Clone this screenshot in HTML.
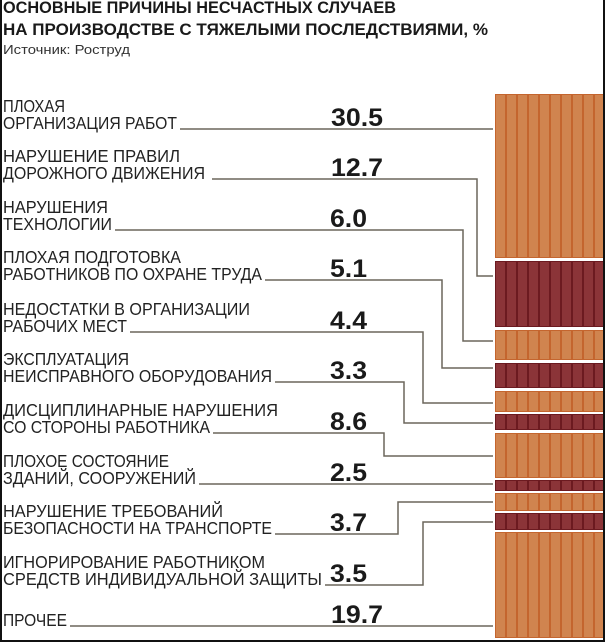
<!DOCTYPE html>
<html><head><meta charset="utf-8"><style>
html,body{margin:0;padding:0;background:#fff;}
svg{display:block;}
.t{font-family:"Liberation Sans",sans-serif;font-weight:bold;font-size:17px;fill:#1a1a1a;}
.s{font-family:"Liberation Sans",sans-serif;font-size:13px;fill:#333;}
.l{font-family:"Liberation Sans",sans-serif;font-size:17.5px;fill:#222;}
.n{font-family:"Liberation Sans",sans-serif;font-weight:bold;font-size:25px;fill:#1a1a1a;}
</style></head><body>
<svg width="605" height="642" viewBox="0 0 605 642" xmlns="http://www.w3.org/2000/svg">
<rect width="605" height="642" fill="#fff"/>
<text class="t" x="3" y="13" textLength="393" lengthAdjust="spacingAndGlyphs">ОСНОВНЫЕ ПРИЧИНЫ НЕСЧАСТНЫХ СЛУЧАЕВ</text>
<text class="t" x="3" y="35" textLength="485" lengthAdjust="spacingAndGlyphs">НА ПРОИЗВОДСТВЕ С ТЯЖЕЛЫМИ ПОСЛЕДСТВИЯМИ, %</text>
<text class="s" x="3" y="54" textLength="127" lengthAdjust="spacingAndGlyphs">Источник: Роструд</text>

<g fill="none" stroke="#6b665c" stroke-width="1.5">
<polyline points="180,129 493,129"/>
<polyline points="212,179 477,179 477,276 493,276"/>
<polyline points="115,230 463,230 463,341 493,341"/>
<polyline points="265,280 442,280 442,368 493,368"/>
<polyline points="130,332 423,332 423,403 493,403"/>
<polyline points="275,382 404,382 404,423 493,423"/>
<polyline points="213,433 384,433 384,456 493,456"/>
<polyline points="199,484 493,484"/>
<polyline points="275,534 398,534 398,502 493,502"/>
<polyline points="325,585 423,585 423,522 493,522"/>
<polyline points="70,626 493,626"/>
</g>
<g class="l">
<text x="3" y="112" textLength="62" lengthAdjust="spacingAndGlyphs">ПЛОХАЯ</text>
<text x="3" y="129" textLength="174" lengthAdjust="spacingAndGlyphs">ОРГАНИЗАЦИЯ РАБОТ</text>
<text x="3" y="162" textLength="177" lengthAdjust="spacingAndGlyphs">НАРУШЕНИЕ ПРАВИЛ</text>
<text x="3" y="179" textLength="202" lengthAdjust="spacingAndGlyphs">ДОРОЖНОГО ДВИЖЕНИЯ</text>
<text x="3" y="213" textLength="105" lengthAdjust="spacingAndGlyphs">НАРУШЕНИЯ</text>
<text x="3" y="230" textLength="109" lengthAdjust="spacingAndGlyphs">ТЕХНОЛОГИИ</text>
<text x="3" y="263" textLength="178" lengthAdjust="spacingAndGlyphs">ПЛОХАЯ ПОДГОТОВКА</text>
<text x="3" y="280" textLength="259" lengthAdjust="spacingAndGlyphs">РАБОТНИКОВ ПО ОХРАНЕ ТРУДА</text>
<text x="3" y="315" textLength="247" lengthAdjust="spacingAndGlyphs">НЕДОСТАТКИ В ОРГАНИЗАЦИИ</text>
<text x="3" y="332" textLength="124" lengthAdjust="spacingAndGlyphs">РАБОЧИХ МЕСТ</text>
<text x="3" y="365" textLength="126" lengthAdjust="spacingAndGlyphs">ЭКСПЛУАТАЦИЯ</text>
<text x="3" y="382" textLength="269" lengthAdjust="spacingAndGlyphs">НЕИСПРАВНОГО ОБОРУДОВАНИЯ</text>
<text x="3" y="416" textLength="275" lengthAdjust="spacingAndGlyphs">ДИСЦИПЛИНАРНЫЕ НАРУШЕНИЯ</text>
<text x="3" y="433" textLength="207" lengthAdjust="spacingAndGlyphs">СО СТОРОНЫ РАБОТНИКА</text>
<text x="3" y="467" textLength="166" lengthAdjust="spacingAndGlyphs">ПЛОХОЕ СОСТОЯНИЕ</text>
<text x="3" y="484" textLength="193" lengthAdjust="spacingAndGlyphs">ЗДАНИЙ, СООРУЖЕНИЙ</text>
<text x="3" y="517" textLength="220" lengthAdjust="spacingAndGlyphs">НАРУШЕНИЕ ТРЕБОВАНИЙ</text>
<text x="3" y="534" textLength="269" lengthAdjust="spacingAndGlyphs">БЕЗОПАСНОСТИ НА ТРАНСПОРТЕ</text>
<text x="3" y="568" textLength="262" lengthAdjust="spacingAndGlyphs">ИГНОРИРОВАНИЕ РАБОТНИКОМ</text>
<text x="3" y="585" textLength="319" lengthAdjust="spacingAndGlyphs">СРЕДСТВ ИНДИВИДУАЛЬНОЙ ЗАЩИТЫ</text>
<text x="3" y="626" textLength="64" lengthAdjust="spacingAndGlyphs">ПРОЧЕЕ</text>
</g>
<g class="n" text-anchor="end">
<text x="383" y="126" textLength="52" lengthAdjust="spacingAndGlyphs">30.5</text>
<text x="383" y="176" textLength="52" lengthAdjust="spacingAndGlyphs">12.7</text>
<text x="367" y="227" textLength="37" lengthAdjust="spacingAndGlyphs">6.0</text>
<text x="367" y="277" textLength="37" lengthAdjust="spacingAndGlyphs">5.1</text>
<text x="367" y="329" textLength="37" lengthAdjust="spacingAndGlyphs">4.4</text>
<text x="367" y="379" textLength="37" lengthAdjust="spacingAndGlyphs">3.3</text>
<text x="367" y="430" textLength="37" lengthAdjust="spacingAndGlyphs">8.6</text>
<text x="367" y="481" textLength="37" lengthAdjust="spacingAndGlyphs">2.5</text>
<text x="367" y="531" textLength="37" lengthAdjust="spacingAndGlyphs">3.7</text>
<text x="367" y="582" textLength="37" lengthAdjust="spacingAndGlyphs">3.5</text>
<text x="383" y="623" textLength="52" lengthAdjust="spacingAndGlyphs">19.7</text>
</g>
<g fill="#d0844f" stroke="#c4652e" stroke-width="1">
<rect x="495.5" y="94.5" width="10" height="163"/><rect x="506.5" y="94.5" width="10" height="163"/><rect x="517.5" y="94.5" width="10" height="163"/><rect x="528.5" y="94.5" width="10" height="163"/><rect x="539.5" y="94.5" width="10" height="163"/><rect x="550.5" y="94.5" width="10" height="163"/><rect x="561.5" y="94.5" width="10" height="163"/><rect x="572.5" y="94.5" width="10" height="163"/><rect x="583.5" y="94.5" width="10" height="163"/><rect x="594.5" y="94.5" width="10" height="163"/>
</g>
<g id="rest"></g>
<rect x="0" y="0" width="2" height="642" fill="#111"/>
<rect x="603" y="0" width="2" height="642" fill="#111"/>
<rect x="0" y="640" width="605" height="2" fill="#111"/>
</svg>
<script>
(function(){
var ns="http://www.w3.org/2000/svg",g=document.getElementById("rest");
var segs=[[261,326,1],[330,359,0],[363,387,1],[391,411,0],[414,429,1],[433,477,0],[480,490,1],[493,510,0],[513,529,1],[532,637,0]];
segs.forEach(function(s){for(var i=0;i<10;i++){var r=document.createElementNS(ns,"rect");
r.setAttribute("x",495.5+11*i);r.setAttribute("y",s[0]+0.5);r.setAttribute("width",10);r.setAttribute("height",s[1]-s[0]);
r.setAttribute("fill",s[2]?"#8b3438":"#d0844f");r.setAttribute("stroke",s[2]?"#6c1a20":"#c4652e");g.appendChild(r);}});
})();
</script>
</body></html>
